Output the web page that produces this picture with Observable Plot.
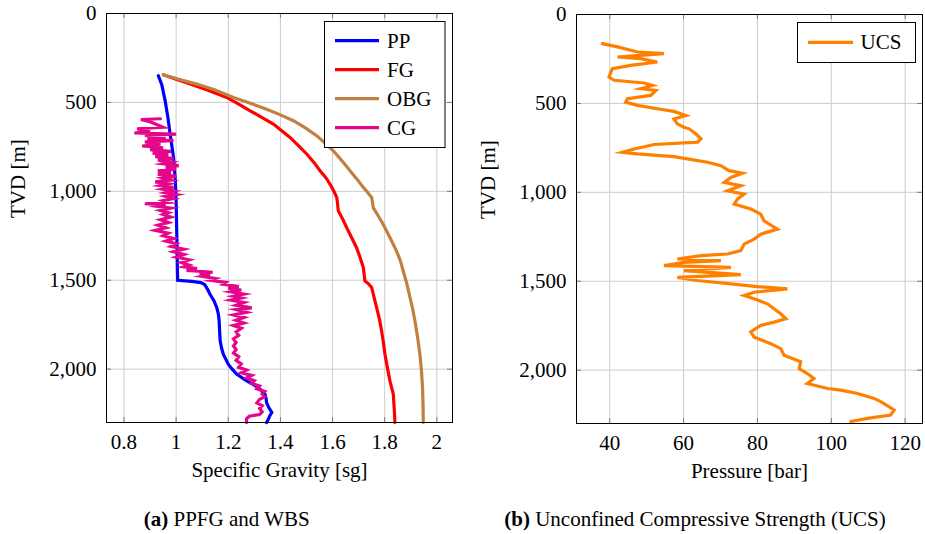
<!DOCTYPE html>
<html><head><meta charset="utf-8">
<script src="https://cdn.jsdelivr.net/npm/d3@7"></script>
<script src="https://cdn.jsdelivr.net/npm/@observablehq/plot@0.6"></script>
<style>
body{margin:0;background:#fff;}
#wrap{position:relative;width:925px;height:534px;overflow:hidden;}
.panel{position:absolute;top:0;}
#overlay{position:absolute;left:0;top:0;}
#wrap svg, #wrap svg text, #wrap svg tspan{font-family:"Liberation Serif","Times New Roman",Tinos,"DejaVu Serif",serif !important;}
</style></head><body>
<div id="wrap"><div id="p1" class="panel" style="left:0"></div><div id="p2" class="panel" style="left:465px"></div></div>
<script>
// ---- Data ----
const sgTicks = [0.8, 1, 1.2, 1.4, 1.6, 1.8, 2];
const barTicks = [40, 60, 80, 100, 120];
const depthTicks = [0, 500, 1000, 1500, 2000];

const ppDepth = [350,400,491,580,678,809,940,1053,1200,1350,1448,1500,1506,1513,1525,1550,1579,1615,1654,1690,1729,1790,1841,1880,1916,1972,2000,2028,2050,2066,2090,2113,2141,2165,2188,2215,2244,2260,2281,2300];
const ppSG    = [0.932,0.945,0.958,0.968,0.977,0.99,0.997,1.0,1.002,1.004,1.005,1.006,1.06,1.095,1.11,1.12,1.13,1.145,1.156,1.162,1.165,1.167,1.169,1.174,1.181,1.2,1.215,1.232,1.255,1.271,1.30,1.322,1.341,1.345,1.347,1.355,1.367,1.36,1.354,1.347];

const fgDepth = [345,370,397,430,472,510,547,585,622,660,697,745,790,840,884,925,959,1000,1034,1054,1110,1160,1204,1260,1317,1370,1429,1504,1520,1541,1600,1654,1720,1785,1850,1916,1990,2066,2141,2234,2300];
const fgSG    = [0.951,1.00,1.054,1.12,1.194,1.24,1.284,1.33,1.373,1.405,1.437,1.47,1.501,1.53,1.552,1.575,1.59,1.605,1.616,1.618,1.622,1.64,1.654,1.673,1.692,1.705,1.718,1.724,1.738,1.75,1.76,1.769,1.78,1.788,1.795,1.801,1.81,1.82,1.833,1.837,1.839];

const obgDepth = [345,370,397,430,472,505,538,570,603,645,687,730,772,830,884,930,978,998,1034,1060,1092,1140,1185,1260,1335,1390,1448,1520,1597,1660,1729,1820,1916,2010,2103,2200,2300];
const obgSG    = [0.951,1.01,1.079,1.15,1.22,1.285,1.347,1.40,1.45,1.497,1.539,1.572,1.603,1.637,1.667,1.693,1.718,1.73,1.75,1.753,1.756,1.776,1.794,1.82,1.845,1.86,1.871,1.885,1.897,1.907,1.916,1.926,1.935,1.941,1.945,1.947,1.948];

const cgDepth = [592,596,612,640,648,660,672,678,685,695,705,715,722,735,745,755,765,775,785,795,805,815,825,835,845,855,865,875,885,895,905,915,925,937,947,958,968,978,988,998,1008,1018,1028,1040,1052,1062,1070,1076,1085,1095,1108,1120,1130,1145,1160,1175,1190,1205,1220,1235,1250,1265,1280,1295,1310,1325,1340,1355,1370,1385,1400,1415,1425,1435,1445,1455,1462,1470,1478,1490,1500,1512,1522,1535,1545,1555,1565,1578,1590,1600,1612,1625,1640,1655,1665,1680,1695,1710,1725,1740,1755,1770,1790,1810,1830,1850,1870,1890,1910,1930,1950,1970,1990,2005,2020,2035,2050,2065,2080,2095,2110,2125,2140,2155,2170,2190,2205,2220,2240,2255,2265,2280,2300];
const cgSG    = [0.94,0.865,0.905,0.95,0.85,0.90,0.84,1.00,0.88,0.96,0.89,0.99,0.88,0.94,0.87,0.95,0.90,0.98,0.91,0.97,0.92,0.99,0.93,0.98,0.95,1.01,0.96,1.00,0.93,0.98,0.93,1.00,0.95,0.98,0.92,0.97,0.94,0.99,0.95,0.99,0.96,1.00,0.96,0.99,0.95,0.97,0.88,0.96,0.93,0.98,0.94,0.97,0.95,0.98,0.94,0.97,0.93,0.96,0.92,0.97,0.95,0.99,0.96,1.00,0.98,1.03,0.99,1.03,1.00,1.05,1.02,1.05,1.03,1.08,1.04,1.14,1.09,1.13,1.10,1.15,1.13,1.19,1.18,1.24,1.20,1.25,1.21,1.26,1.22,1.25,1.21,1.26,1.23,1.29,1.23,1.27,1.22,1.26,1.23,1.26,1.22,1.25,1.23,1.24,1.22,1.23,1.22,1.23,1.22,1.24,1.23,1.25,1.24,1.27,1.25,1.29,1.27,1.30,1.29,1.32,1.31,1.34,1.33,1.34,1.32,1.31,1.33,1.32,1.33,1.32,1.28,1.27,1.27];

const ucsDepth = [164,182,211,220,239,248,267,286,305,330,352,370,385,399,417,427,455,474,493,511,530,545,568,587,615,634,643,671,699,718,731,756,775,784,799,812,831,850,878,893,916,944,963,991,1010,1038,1066,1094,1123,1160,1207,1235,1263,1291,1328,1347,1356,1375,1384,1394,1412,1422,1440,1463,1478,1496,1515,1530,1543,1562,1580,1599,1627,1683,1711,1730,1748,1785,1814,1851,1879,1916,1953,1991,2019,2047,2075,2103,2112,2131,2159,2177,2224,2252,2271,2289];
const ucsBar   = [38.0,42.1,47.5,54.7,42.1,48.4,52.9,45.7,40.7,40.2,39.8,41.2,49.3,51.6,48.4,52.5,51.1,44.8,44.3,47.5,52.9,57.4,60.6,57.4,58.3,60.1,61.5,63.3,64.7,63.8,52.0,46.6,43.4,47.5,57.4,61.0,66.5,70.1,72.3,75.9,72.8,71.0,75.5,71.9,76.4,74.6,73.7,78.2,80.9,81.8,85.4,80.9,79.1,76.4,75.5,71.9,64.7,58.3,70.1,60.1,54.7,72.8,60.1,75.5,58.3,63.7,72.8,80.0,88.1,79.1,76.4,79.1,82.7,86.3,87.7,84.5,80.9,78.2,79.1,83.6,86.3,87.2,91.7,91.3,93.5,95.3,93.5,99.0,102.6,107.1,111.6,113.4,117.0,116.1,109.8,105.3];

const seriesNames = ["PP", "FG", "OBG", "CG"];
const seriesColors = ["#0000ff", "#ff0000", "#bf8040", "#e6068c"];
const ucsName = "UCS";
const ucsColor = "#ff8000";

// ---- Build tables ----
const zip = (d, v) => d.map((depth, i) => ({depth, v: v[i]}));
const leftSeries = [zip(ppDepth, ppSG), zip(fgDepth, fgSG), zip(obgDepth, obgSG), zip(cgDepth, cgSG)];
const ucs = zip(ucsDepth, ucsBar);

const FONT = "'Liberation Serif', 'Times New Roman', Tinos, 'DejaVu Serif', serif";
const FS = 21;
const gridStyle = {stroke: "#cdcdcd", strokeOpacity: 1, strokeWidth: 1};
const tickCol = "#7a7a7a";

function panel({width, marginLeft, marginRight, marginTop, marginBottom, xDomain, xTicks, xLabel, lines}) {
  const height = 490;
  const fw = width - marginLeft - marginRight;
  const fh = height - marginTop - marginBottom;
  return Plot.plot({
    width, height, marginLeft, marginRight, marginTop, marginBottom,
    style: {fontFamily: FONT, fontSize: FS + "px", background: "transparent", color: "black", overflow: "visible"},
    x: {domain: xDomain},
    y: {domain: [0, 2300], reverse: true},
    marks: [
      Plot.gridX(xTicks, gridStyle),
      Plot.gridY(depthTicks, gridStyle),
      // inward tick marks on all four sides
      Plot.tickY(depthTicks, {y: d => d, stroke: tickCol, insetRight: fw - 5}),
      Plot.tickY(depthTicks, {y: d => d, stroke: tickCol, insetLeft: fw - 5}),
      Plot.tickX(xTicks, {x: d => d, stroke: tickCol, insetTop: fh - 5}),
      Plot.tickX(xTicks, {x: d => d, stroke: tickCol, insetBottom: fh - 5}),
      Plot.axisX(xTicks, {anchor: "bottom", tickSize: 0, tickPadding: 12, tickFormat: d => String(d), label: null, fontSize: FS, fontFamily: FONT}),
      Plot.axisY(depthTicks, {anchor: "left", tickSize: 0, tickPadding: 10, tickFormat: d3.format(","), label: null, fontSize: FS, fontFamily: FONT}),
      Plot.text([xLabel], {frameAnchor: "bottom", dy: 48, lineAnchor: "middle", fontSize: FS, fontFamily: FONT, fill: "black"}),
      Plot.text(["TVD [m]"], {frameAnchor: "left", dx: -88, rotate: -90, lineAnchor: "middle", fontSize: FS, fontFamily: FONT, fill: "black"}),
      ...lines.map(([data, color]) => Plot.line(data, {x: "v", y: "depth", stroke: color, strokeWidth: 3.2, strokeLinejoin: "miter", strokeMiterlimit: 6})),
      Plot.frame({stroke: "black", strokeWidth: 1})
    ]
  });
}

document.getElementById("p1").appendChild(panel({
  width: 465, marginLeft: 106, marginRight: 13, marginTop: 13, marginBottom: 68,
  xDomain: [0.733, 2.06], xTicks: sgTicks, xLabel: "Specific Gravity [sg]",
  lines: leftSeries.map((s, i) => [s, seriesColors[i]])
}));
document.getElementById("p2").appendChild(panel({
  width: 460, marginLeft: 111, marginRight: 3, marginTop: 14, marginBottom: 67,
  xDomain: [31, 124.7], xTicks: barTicks, xLabel: "Pressure [bar]",
  lines: [[ucs, ucsColor]]
}));

// ---- Legends & captions overlay ----
const NS = "http://www.w3.org/2000/svg";
const ov = document.createElementNS(NS, "svg");
ov.setAttribute("id", "overlay");
ov.setAttribute("width", 925); ov.setAttribute("height", 534);
function el(tag, attrs, text) {
  const e = document.createElementNS(NS, tag);
  for (const k in attrs) e.setAttribute(k, attrs[k]);
  if (text != null) e.textContent = text;
  ov.appendChild(e);
  return e;
}
// left legend
el("rect", {x: 324.5, y: 21.5, width: 120.5, height: 126, fill: "#fff", stroke: "#000", "stroke-width": 1});
seriesNames.forEach((n, i) => {
  const cy = 40.7 + i * 29;
  el("line", {x1: 335, x2: 379, y1: cy, y2: cy, stroke: seriesColors[i], "stroke-width": 3.2});
  el("text", {x: 387, y: cy + 6.8, "font-size": FS, fill: "#000"}, n);
});
// right legend
el("rect", {x: 797.5, y: 22.5, width: 118, height: 40, fill: "#fff", stroke: "#000", "stroke-width": 1});
el("line", {x1: 808, x2: 853, y1: 42.3, y2: 42.3, stroke: ucsColor, "stroke-width": 3.2});
el("text", {x: 860.5, y: 49, "font-size": FS, fill: "#000"}, ucsName);
// captions
const c1 = el("text", {x: 226.7, y: 526, "font-size": FS, "text-anchor": "middle", fill: "#000"});
c1.innerHTML = '<tspan font-weight="bold">(a)</tspan> PPFG and WBS';
const c2 = el("text", {x: 695, y: 526, "font-size": FS, "text-anchor": "middle", fill: "#000"});
c2.innerHTML = '<tspan font-weight="bold">(b)</tspan> Unconfined Compressive Strength (UCS)';
document.getElementById("wrap").appendChild(ov);
</script>
</body></html>
